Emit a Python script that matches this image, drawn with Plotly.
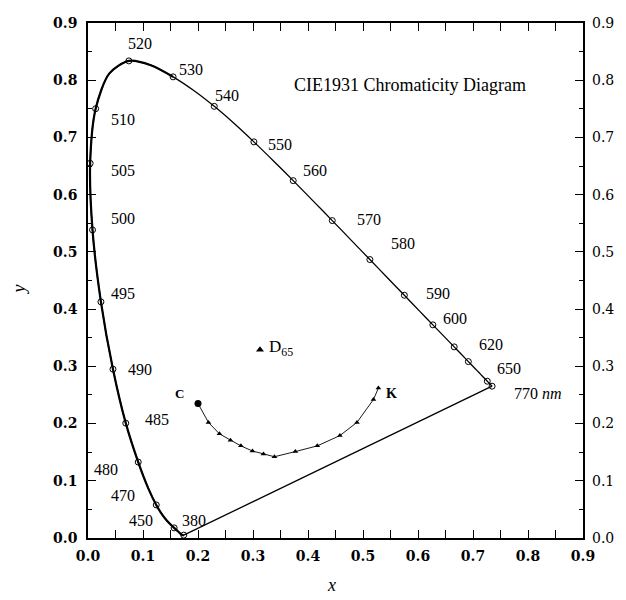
import plotly.graph_objects as go

# CIE 1931 spectral locus (chromaticity x, y) by wavelength (nm)
locus_nm = [380, 385, 390, 395, 400, 405, 410, 415, 420, 425, 430, 435, 440, 445, 450, 455,
            460, 465, 470, 475, 480, 485, 490, 495, 500, 505, 510, 515, 520, 525, 530, 535,
            540, 545, 550, 555, 560, 565, 570, 575, 580, 585, 590, 595, 600, 605, 610, 615,
            620, 625, 630, 635, 640, 645, 650, 655, 660, 770]
locus_x = [0.1741, 0.1740, 0.1738, 0.1736, 0.1733, 0.1730, 0.1726, 0.1721, 0.1714, 0.1703,
           0.1689, 0.1669, 0.1644, 0.1611, 0.1566, 0.1510, 0.1440, 0.1355, 0.1241, 0.1096,
           0.0913, 0.0687, 0.0454, 0.0235, 0.0082, 0.0039, 0.0139, 0.0389, 0.0743, 0.1142,
           0.1547, 0.1929, 0.2296, 0.2658, 0.3016, 0.3373, 0.3731, 0.4087, 0.4441, 0.4788,
           0.5125, 0.5448, 0.5752, 0.6029, 0.6270, 0.6482, 0.6658, 0.6801, 0.6915, 0.7006,
           0.7079, 0.7140, 0.7190, 0.7230, 0.7260, 0.7283, 0.7300, 0.7347]
locus_y = [0.0050, 0.0050, 0.0049, 0.0049, 0.0048, 0.0048, 0.0048, 0.0048, 0.0051, 0.0058,
           0.0069, 0.0086, 0.0109, 0.0138, 0.0177, 0.0227, 0.0297, 0.0399, 0.0578, 0.0868,
           0.1327, 0.2007, 0.2950, 0.4127, 0.5384, 0.6548, 0.7502, 0.8120, 0.8338, 0.8262,
           0.8059, 0.7816, 0.7543, 0.7243, 0.6923, 0.6589, 0.6245, 0.5896, 0.5547, 0.5202,
           0.4866, 0.4544, 0.4242, 0.3965, 0.3725, 0.3514, 0.3340, 0.3197, 0.3083, 0.2993,
           0.2920, 0.2859, 0.2809, 0.2770, 0.2740, 0.2717, 0.2700, 0.2653]

marker_nm = [380, 450, 470, 480, 485, 490, 495, 500, 505, 510, 520, 530, 540, 550, 560,
             570, 580, 590, 600, 610, 620, 650, 770]

# wavelength labels and where they sit (x, y in chart units)
label_text = ["520", "530", "540", "550", "560", "570", "580", "590", "600", "620", "650",
              "770 <i>nm</i>", "510", "505", "500", "495", "490", "485", "480", "470", "450", "380"]
label_x = [0.094, 0.187, 0.253, 0.349, 0.412, 0.510, 0.573, 0.637, 0.668, 0.733, 0.766,
           0.818, 0.063, 0.063, 0.063, 0.063, 0.095, 0.125, 0.032, 0.063, 0.097, 0.192]
label_y = [0.864, 0.818, 0.774, 0.687, 0.643, 0.557, 0.514, 0.428, 0.383, 0.339, 0.297,
           0.252, 0.731, 0.643, 0.558, 0.427, 0.295, 0.207, 0.120, 0.075, 0.031, 0.031]

# C -> K trajectory
ck_x = [0.200, 0.219, 0.239, 0.259, 0.278, 0.299, 0.319, 0.339, 0.377, 0.417, 0.458, 0.489, 0.519, 0.528]
ck_y = [0.235, 0.202, 0.182, 0.171, 0.161, 0.152, 0.147, 0.142, 0.151, 0.161, 0.179, 0.202, 0.242, 0.262]

d65 = (0.3127, 0.3290)

FONT = "Liberation Serif"
TICKFONT = "DejaVu Serif"
idx = {nm: i for i, nm in enumerate(locus_nm)}

fig = go.Figure()
# thin full locus
fig.add_trace(go.Scatter(x=locus_x, y=locus_y, mode="lines",
                         line=dict(color="black", width=1.3, shape="spline", smoothing=0.8),
                         hoverinfo="skip"))
# thick left part of the locus
end = idx[530]
fig.add_trace(go.Scatter(x=locus_x[:end + 1], y=locus_y[:end + 1], mode="lines",
                         line=dict(color="black", width=2.2, shape="spline", smoothing=0.8),
                         hoverinfo="skip"))
# line of purples
fig.add_trace(go.Scatter(x=[locus_x[idx[380]], locus_x[idx[770]]],
                         y=[locus_y[idx[380]], locus_y[idx[770]]], mode="lines",
                         line=dict(color="black", width=1.3), hoverinfo="skip"))
# markers
fig.add_trace(go.Scatter(x=[locus_x[idx[n]] for n in marker_nm], y=[locus_y[idx[n]] for n in marker_nm],
                         mode="markers",
                         marker=dict(symbol="circle-open", size=6, color="black", line=dict(width=1))))
# C-K trajectory
fig.add_trace(go.Scatter(x=ck_x, y=ck_y, mode="lines",
                         line=dict(color="black", width=0.9)))
fig.add_trace(go.Scatter(x=ck_x[1:], y=ck_y[1:], mode="markers",
                         marker=dict(symbol="triangle-up", size=5, color="black")))
fig.add_trace(go.Scatter(x=[ck_x[0]], y=[ck_y[0]], mode="markers",
                         marker=dict(symbol="circle", size=7, color="black")))
fig.add_trace(go.Scatter(x=[d65[0]], y=[d65[1]], mode="markers",
                         marker=dict(symbol="triangle-up", size=7, color="black")))
# dummy for right axis
fig.add_trace(go.Scatter(x=[0], y=[0], yaxis="y2", mode="markers", marker=dict(opacity=0),
                         hoverinfo="skip"))

for t, x, y in zip(label_text, label_x, label_y):
    fig.add_annotation(x=x, y=y, text=t, showarrow=False, xanchor="center", yanchor="middle",
                       font=dict(family=FONT, size=16, color="black"))

fig.add_annotation(x=0.585, y=0.792, text="CIE1931 Chromaticity Diagram", showarrow=False,
                   xanchor="center", yanchor="middle",
                   font=dict(family=FONT, size=18, color="black"))
fig.add_annotation(x=d65[0] + 0.012, y=d65[1] + 0.003, text="D<sub>65</sub>", showarrow=False,
                   xanchor="left", yanchor="middle", font=dict(family=FONT, size=17, color="black"))
fig.add_annotation(x=0.167, y=0.252, text="<b>C</b>", showarrow=False,
                   font=dict(family=FONT, size=13, color="black"))
fig.add_annotation(x=0.552, y=0.252, text="<b>K</b>", showarrow=False,
                   font=dict(family=FONT, size=14, color="black"))

fig.add_annotation(xref="paper", yref="paper", x=0.491, y=-0.092, text="<i>x</i>", showarrow=False,
                   xanchor="center", yanchor="middle",
                   font=dict(family=FONT, size=18, color="black"))
fig.add_annotation(xref="paper", yref="paper", x=-0.140, y=0.482, text="<i>y</i>", showarrow=False,
                   xanchor="center", yanchor="middle",
                   textangle=-90, font=dict(family=FONT, size=18, color="black"))

tickfont_bold = dict(family=TICKFONT, size=14, color="black", weight="bold")
tickfont_reg = dict(family=TICKFONT, size=14, color="black")
axis_common = dict(showgrid=False, zeroline=False, showline=True, linecolor="black", linewidth=1.6,
                   ticks="inside", ticklen=8, tickwidth=1, tickcolor="black", mirror="allticks",
                   range=[0, 0.9], dtick=0.1, tick0=0, tickformat=".1f", tickfont=tickfont_bold,
                   minor=dict(ticks="inside", ticklen=4, dtick=0.05, tickcolor="black", tickwidth=1))

fig.update_layout(
    width=626, height=600,
    margin=dict(l=88, r=39, t=23, b=62),
    paper_bgcolor="white", plot_bgcolor="white",
    showlegend=False,
    xaxis=dict(**axis_common, ticklabelstandoff=4),
    yaxis=dict(**axis_common, ticklabelstandoff=6),
    yaxis2=dict(overlaying="y", side="right", range=[0, 0.9], dtick=0.1, tick0=0, tickformat=".1f",
                showgrid=False, zeroline=False, showline=False, ticks="", tickfont=tickfont_reg,
                ticklabelstandoff=8),
)

fig.write_html("out.html")
